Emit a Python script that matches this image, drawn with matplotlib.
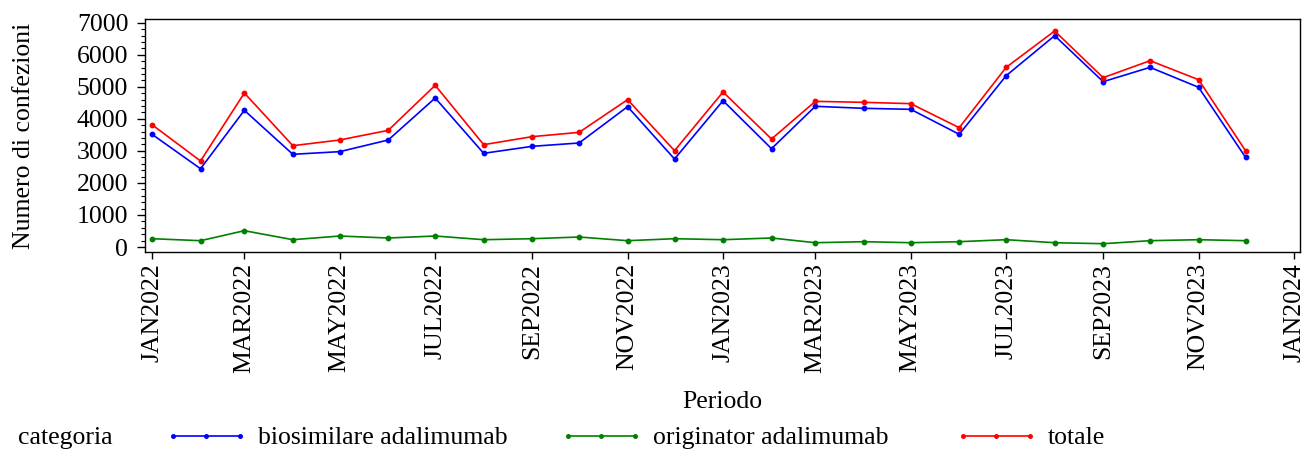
import datetime as dt
import matplotlib
matplotlib.use("Agg")
import matplotlib.pyplot as plt
import matplotlib.dates as mdates
from matplotlib.ticker import MultipleLocator, FuncFormatter

plt.rcParams['font.family'] = ['Liberation Serif', 'DejaVu Serif']
plt.rcParams['font.size'] = 18.5

# dati mensili (gen 2022 - dic 2023)
mesi = [dt.date(2022 + i // 12, i % 12 + 1, 1) for i in range(24)]
biosimilare = [3517, 2444, 4266, 2893, 2976, 3340, 4650, 2924, 3142, 3246, 4380, 2747,
               4567, 3069, 4391, 4328, 4297, 3517, 5348, 6596, 5160, 5607, 4984, 2800]
originator = [259, 197, 509, 228, 343, 281, 343, 228, 259, 312, 197, 259,
              228, 281, 134, 166, 134, 166, 228, 134, 103, 197, 228, 197]
totale = [3817, 2684, 4806, 3162, 3340, 3641, 5046, 3194, 3444, 3578, 4598, 3006,
          4838, 3371, 4546, 4515, 4474, 3724, 5607, 6742, 5285, 5815, 5222, 3006]

serie = [("biosimilare adalimumab", biosimilare, "#0000ff"),
         ("originator adalimumab", originator, "#008000"),
         ("totale", totale, "#ff0000")]

fig = plt.figure(figsize=(13.06, 4.53), dpi=100)
ax = fig.add_axes([145 / 1306, 1 - 252 / 453, 1155 / 1306, 233 / 453])

linee = []
for nome, valori, colore in serie:
    l, = ax.plot(mesi, valori, color=colore, lw=1.2, marker='o', ms=3.2, label=nome)
    linee.append(l)

ax.set_xlim(dt.datetime(2021, 12, 27, 12), dt.datetime(2024, 1, 4, 20))
ax.set_ylim(-156, 7116)
ax.yaxis.set_major_locator(MultipleLocator(1000))
ax.yaxis.set_minor_locator(MultipleLocator(200))
ax.xaxis.set_major_locator(mdates.MonthLocator(bymonth=[1, 3, 5, 7, 9, 11]))
ax.xaxis.set_major_formatter(FuncFormatter(lambda v, p: mdates.num2date(v).strftime('%b%Y').upper()))
plt.setp(ax.get_xticklabels(), rotation=90, va='top', ha='center')

ax.tick_params(axis='y', which='major', length=6, width=1, pad=6)
ax.tick_params(axis='y', which='minor', length=3, width=0.8)
ax.tick_params(axis='x', which='major', length=5, width=1, pad=3)
for s in ax.spines.values():
    s.set_linewidth(1.0)

ax.set_ylabel("Numero di confezioni", labelpad=30)
ax.set_xlabel("Periodo", labelpad=13)

# legenda in basso, stile SAS
fig.text(18 / 1306, 1 - 438 / 453, "categoria", ha='left', va='center')
for l, xpos in zip(linee, [165, 560, 955]):
    fig.legend(handles=[l], loc='center left', bbox_to_anchor=(xpos / 1306, 1 - 438 / 453),
               frameon=False, borderpad=0, borderaxespad=0, handlelength=3.2,
               handletextpad=0.43, numpoints=3, markerscale=0.8)

fig.savefig("out.png", dpi=100)
